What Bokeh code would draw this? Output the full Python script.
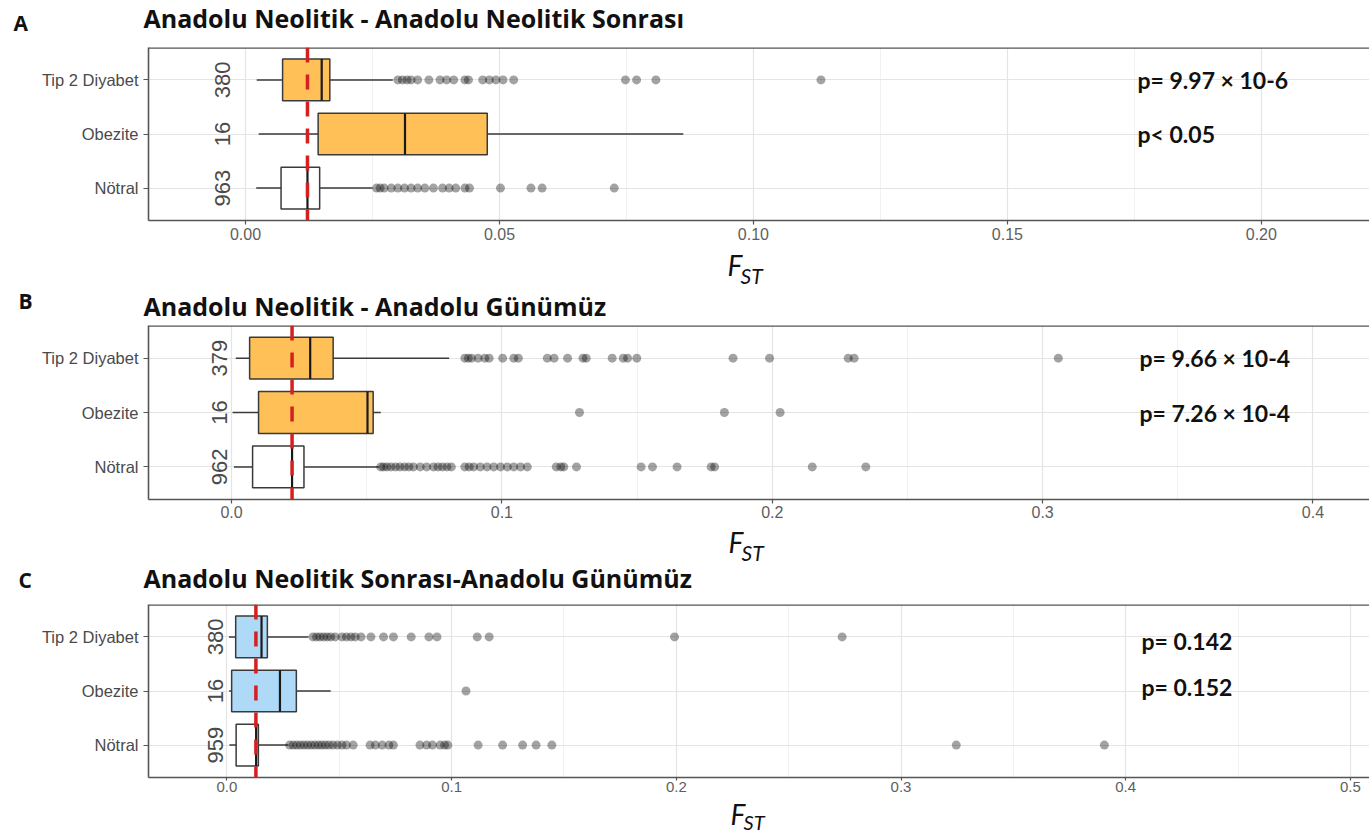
import numpy as np
from bokeh.plotting import figure
from bokeh.models import Range1d, FixedTicker, Span, Label
from bokeh.layouts import column
from bokeh.embed import file_html
from bokeh.resources import INLINE
from bokeh.core.properties import value

# ---------------- data ----------------
categories = ["Tip 2 Diyabet", "Obezite", "Nötral"]
cat_pos = [3, 2, 1]
axis_title_main = "F"
axis_title_sub = "ST"

# Panel A
A_letter = "A"
A_title = "Anadolu Neolitik - Anadolu Neolitik Sonrası"
A_counts = [380, 16, 963]
A_wlo = [0.0022, 0.0026, 0.0021]
A_q1 = [0.0073, 0.0143, 0.0070]
A_med = [0.0150, 0.0314, 0.0122]
A_q3 = [0.0166, 0.0476, 0.0146]
A_whi = [0.0290, 0.0862, 0.0250]
A_out_tip = [0.0300, 0.0309, 0.0318, 0.0326, 0.0339, 0.0361, 0.0383, 0.0396, 0.0410,
             0.0432, 0.0439, 0.0467, 0.0480, 0.0493, 0.0507, 0.0528, 0.0748, 0.0770,
             0.0808, 0.1133]
A_out_obez = []
A_out_notr = [0.0258, 0.0265, 0.0273, 0.0287, 0.0300, 0.0313, 0.0326, 0.0339, 0.0353,
              0.0370, 0.0388, 0.0401, 0.0414, 0.0432, 0.0441, 0.0502, 0.0562, 0.0584,
              0.0726]
A_ref = 0.0122
A_pvals = ["p= 9.97 × 10-6", "p< 0.05"]
A_xticks = [0.0, 0.05, 0.10, 0.15, 0.20]
A_xticklabels = ["0.00", "0.05", "0.10", "0.15", "0.20"]
A_xminor = [0.025, 0.075, 0.125, 0.175, 0.225]

# Panel B
B_letter = "B"
B_title = "Anadolu Neolitik - Anadolu Günümüz"
B_counts = [379, 16, 962]
B_wlo = [0.0016, 0.0004, 0.0009]
B_q1 = [0.0067, 0.0100, 0.0078]
B_med = [0.0291, 0.0503, 0.0224]
B_q3 = [0.0376, 0.0524, 0.0268]
B_whi = [0.0805, 0.0552, 0.0545]
B_out_tip = [0.0863, 0.0876, 0.0888, 0.0912, 0.0937, 0.0953, 0.1003, 0.1044, 0.1061,
             0.1168, 0.1193, 0.1243, 0.1300, 0.1312, 0.1408, 0.1449, 0.1465, 0.1499,
             0.1855, 0.1990, 0.2281, 0.2303, 0.3058]
B_out_obez = [0.1287, 0.1823, 0.2029]
B_out_notr = [0.0552, 0.0562, 0.0575, 0.0590, 0.0607, 0.0623, 0.0640, 0.0656, 0.0673,
              0.0698, 0.0722, 0.0747, 0.0764, 0.0780, 0.0797, 0.0813, 0.0863, 0.0879,
              0.0896, 0.0920, 0.0945, 0.0970, 0.0995, 0.1020, 0.1044, 0.1069, 0.1094,
              0.1201, 0.1218, 0.1229, 0.1276, 0.1515, 0.1557, 0.1648, 0.1774, 0.1787,
              0.2148, 0.2346]
B_ref = 0.0224
B_pvals = ["p= 9.66 × 10-4", "p= 7.26 × 10-4"]
B_xticks = [0.0, 0.1, 0.2, 0.3, 0.4]
B_xticklabels = ["0.0", "0.1", "0.2", "0.3", "0.4"]
B_xminor = [0.05, 0.15, 0.25, 0.35]

# Panel C
C_letter = "C"
C_title = "Anadolu Neolitik Sonrası-Anadolu Günümüz"
C_counts = [380, 16, 959]
C_wlo = [0.0009, 0.0010, 0.0011]
C_q1 = [0.0039, 0.0021, 0.0041]
C_med = [0.0154, 0.0236, 0.0130]
C_q3 = [0.0180, 0.0309, 0.0140]
C_whi = [0.0363, 0.0462, 0.0274]
C_out_tip = [0.0383, 0.0399, 0.0414, 0.0430, 0.0446, 0.0462, 0.0482, 0.0512, 0.0532,
             0.0552, 0.0571, 0.0597, 0.0641, 0.0697, 0.0741, 0.0820, 0.0899, 0.0935,
             0.1114, 0.1167, 0.1992, 0.2738]
C_out_obez = [0.1064]
C_out_notr = [0.0279, 0.0295, 0.0311, 0.0327, 0.0343, 0.0359, 0.0375, 0.0391, 0.0407,
              0.0422, 0.0438, 0.0454, 0.0472, 0.0492, 0.0512, 0.0532, 0.0562, 0.0637,
              0.0661, 0.0691, 0.0721, 0.0741, 0.0859, 0.0889, 0.0915, 0.0949, 0.0969,
              0.0983, 0.1118, 0.1227, 0.1316, 0.1376, 0.1446, 0.3246, 0.3905]
C_ref = 0.0129
C_pvals = ["p= 0.142", "p= 0.152"]
C_xticks = [0.0, 0.1, 0.2, 0.3, 0.4, 0.5]
C_xticklabels = ["0.0", "0.1", "0.2", "0.3", "0.4", "0.5"]
C_xminor = [0.05, 0.15, 0.25, 0.35, 0.45]

ORANGE = "#FEC057"
BLUE = "#AED9F7"
WHITE = "#FFFFFF"

FRAME_L = 148
FIG_W = 1369
HEAD_FONT = "Open Sans"
P_FONT = "Lato"


def strip(height, items):
    """A figure without axes whose frame is the whole canvas; used for titles."""
    s = figure(width=FIG_W, height=height, output_backend="svg", toolbar_location=None,
               x_range=Range1d(0, FIG_W), y_range=Range1d(height, 0),
               x_axis_type=None, y_axis_type=None, min_border=0,
               min_border_left=0, min_border_right=0, min_border_top=0,
               min_border_bottom=0, frame_align=False, title=None)
    s.outline_line_color = None
    s.xgrid.visible = False
    s.ygrid.visible = False
    for (tx, ty, txt, font, style, size) in items:
        s.text(x=[tx], y=[ty], text=[txt], text_font=value(font),
               text_font_style=style, text_font_size=size, text_color="#111111",
               text_baseline="middle", text_align="left")
    return s


def panel(counts, wlo, q1, med, q3, whi, outs, ref, pvals, xticks, xlabels, xminor,
          fills, xl, xr, height, top, frame_h, count_x, pval_px, pval_off,
          tick_out=4, standoff=3, tick_font="16px"):
    bottom = height - top - frame_h
    p = figure(width=FIG_W, height=height, output_backend="svg", toolbar_location=None,
               x_range=Range1d(xl, xr), y_range=Range1d(0.4, 3.6),
               min_border_left=FRAME_L, min_border_right=0,
               min_border_top=top, min_border_bottom=bottom,
               frame_align=False, title=None)
    p.outline_line_color = None
    p.background_fill_color = "white"
    p.border_fill_color = "white"

    kx = (xr - xl) / (FIG_W - FRAME_L)
    ky = 3.2 / frame_h

    # grids
    p.xgrid.ticker = FixedTicker(ticks=xticks, minor_ticks=xminor)
    p.xgrid.grid_line_color = "#e4e4e4"
    p.xgrid.grid_line_width = 1.2
    p.xgrid.minor_grid_line_color = "#ededed"
    p.xgrid.minor_grid_line_width = 0.8
    p.ygrid.ticker = FixedTicker(ticks=cat_pos)
    p.ygrid.grid_line_color = "#e4e4e4"
    p.ygrid.grid_line_width = 1.2

    # axes
    p.xaxis.ticker = FixedTicker(ticks=xticks)
    p.xaxis.major_label_overrides = {t: l for t, l in zip(xticks, xlabels)}
    p.yaxis.ticker = FixedTicker(ticks=cat_pos)
    p.yaxis.major_label_overrides = {c: n for c, n in zip(cat_pos, categories)}
    for ax in (p.xaxis, p.yaxis):
        ax.axis_line_color = "#555555"
        ax.axis_line_width = 1.6
        ax.major_tick_line_color = "#555555"
        ax.major_tick_line_width = 1.2
        ax.major_tick_in = 0
        ax.minor_tick_line_color = None
        ax.major_label_text_font = "Liberation Sans"
    p.xaxis.major_tick_out = tick_out
    p.xaxis.major_label_standoff = standoff
    p.xaxis.major_label_text_font_size = tick_font
    p.yaxis.major_tick_out = 5
    p.yaxis.major_label_standoff = 5
    p.yaxis.major_label_text_font_size = "16.5px"
    p.xaxis.major_label_text_color = "#5e5e5e"
    p.yaxis.major_label_text_color = "#4a4a4a"

    # top border of the panel
    p.add_layout(Span(location=3.6, dimension="width", line_color="#555555", line_width=2.6))

    # boxes
    hw = 0.385
    p.segment(x0=wlo, y0=cat_pos, x1=whi, y1=cat_pos, line_color="#3a3a3a", line_width=1.5)
    p.quad(left=q1, right=q3, bottom=[c - hw for c in cat_pos], top=[c + hw for c in cat_pos],
           fill_color=fills, line_color="#3a3a3a", line_width=1.5)
    p.segment(x0=med, y0=[c - hw for c in cat_pos], x1=med, y1=[c + hw for c in cat_pos],
              line_color="#1a1a1a", line_width=2.2)

    # outliers
    ox, oy = [], []
    for c, o in zip(cat_pos, outs):
        ox += list(o)
        oy += [c] * len(o)
    p.scatter(x=ox, y=oy, size=9, fill_color="black", fill_alpha=0.36, line_color=None)

    # counts
    p.text(x=[count_x] * 3, y=cat_pos, text=[str(c) for c in counts], angle=np.pi / 2,
           text_align="center", text_baseline="middle", text_font=value("Liberation Sans"),
           text_font_size="22px", text_color="#4a4a4a")

    # reference line (neutral median)
    p.add_layout(Span(location=ref, dimension="height", line_color="#d42020",
                      line_width=3.5, line_dash="15 12"))

    # p-values
    for c, t, off in zip(cat_pos[:2], pvals, pval_off):
        p.add_layout(Label(x=xl + (pval_px - FRAME_L) * kx, y=c - off * ky, text=t,
                           text_font=P_FONT, text_font_style="bold",
                           text_font_size="23px", text_color="#111111",
                           text_baseline="middle"))
    return p


TS = "25px"   # title size
LS = "21px"   # panel letter size
FS = "28px"   # F size
SS = "21px"   # ST size

# strip y values are vertical centres of the text, in pixels from the strip top
s0 = strip(44, [(13, 22, A_letter, HEAD_FONT, "bold", LS),
                (143, 17.5, A_title, HEAD_FONT, "bold", TS)])
pA = panel(A_counts, A_wlo, A_q1, A_med, A_q3, A_whi, [A_out_tip, A_out_obez, A_out_notr],
           A_ref, A_pvals, A_xticks, A_xticklabels, A_xminor, [ORANGE, ORANGE, WHITE],
           -0.0191, 0.2213, height=204, top=3, frame_h=173,
           count_x=-0.0045, pval_px=1137, pval_off=[0, 0])
s1 = strip(74, [(727, 16, axis_title_main, P_FONT, "italic", FS),
                (740, 27, axis_title_sub, P_FONT, "italic", SS),
                (18, 52, B_letter, HEAD_FONT, "bold", LS),
                (143, 57.5, B_title, HEAD_FONT, "bold", TS)])
pB = panel(B_counts, B_wlo, B_q1, B_med, B_q3, B_whi, [B_out_tip, B_out_obez, B_out_notr],
           B_ref, B_pvals, B_xticks, B_xticklabels, B_xminor, [ORANGE, ORANGE, WHITE],
           -0.0307, 0.4209, height=204, top=3, frame_h=174,
           count_x=-0.0044, pval_px=1139, pval_off=[0, 0], standoff=2)
s2 = strip(75, [(728, 15, axis_title_main, P_FONT, "italic", FS),
                (741, 26, axis_title_sub, P_FONT, "italic", SS),
                (18, 53, C_letter, HEAD_FONT, "bold", LS),
                (143, 51.5, C_title, HEAD_FONT, "bold", TS)])
pC = panel(C_counts, C_wlo, C_q1, C_med, C_q3, C_whi, [C_out_tip, C_out_obez, C_out_notr],
           C_ref, C_pvals, C_xticks, C_xticklabels, C_xminor, [BLUE, BLUE, WHITE],
           -0.0349, 0.5085, height=197, top=3, frame_h=173,
           count_x=-0.0050, pval_px=1141, pval_off=[4, -4],
           tick_out=3, standoff=1, tick_font="15px")
s3 = strip(36, [(730, 15, axis_title_main, P_FONT, "italic", FS),
                (743, 23, axis_title_sub, P_FONT, "italic", "20px")])

layout = column(s0, pA, s1, pB, s2, pC, s3, spacing=0)
open("out.html", "w").write(file_html(layout, INLINE))
